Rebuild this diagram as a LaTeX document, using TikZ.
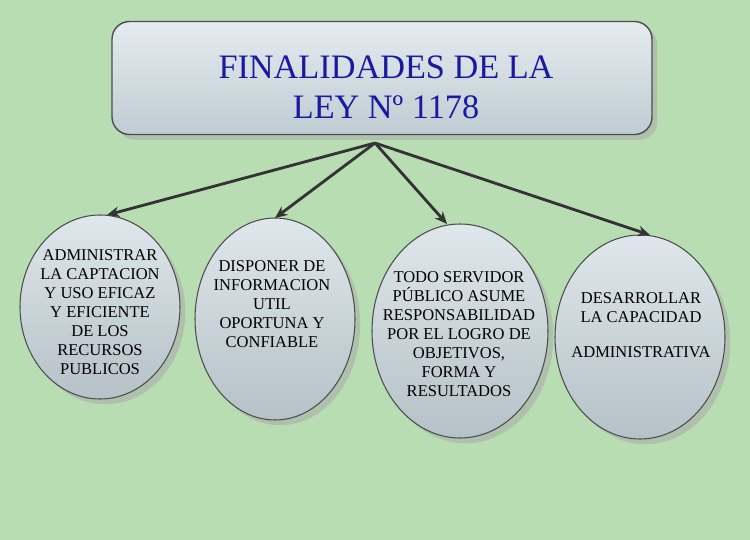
\documentclass[tikz,border=0pt]{standalone}
\usepackage{fontspec}
\setmainfont{Liberation Serif}
\usetikzlibrary{arrows.meta,shadows}
\definecolor{bg}{HTML}{B9DDB3}
\definecolor{boxf}{HTML}{C9D7DE}
\definecolor{titlec}{HTML}{1A1AA0}
\tikzset{
  ellf/.style={draw=black!70, line width=0.6pt, top color=boxf!60!white, bottom color=boxf!90!black, drop shadow={shadow xshift=3pt, shadow yshift=-3pt, fill=black!35}},
  etxt/.style={align=center, font=\fontsize{9.4}{10.8}\selectfont, inner sep=0pt},
  arr/.style={-{Stealth[length=7pt,width=6pt]}, line width=1.6pt, draw=black!80}
}
\begin{document}
\begin{tikzpicture}[x=0.02cm,y=-0.02cm]
\fill[bg] (0,0) rectangle (750,540);
\useasboundingbox (0,0) rectangle (750,540);
\node[draw=black!70, line width=0.8pt, rounded corners=10pt, minimum width=540*0.02cm, minimum height=113*0.02cm, top color=boxf!50!white, bottom color=boxf!95!black, drop shadow={shadow xshift=3pt, shadow yshift=-3pt, fill=black!35}] (t) at (382,78) {};
\node[align=center, font=\fontsize{19.5}{22.7}\selectfont, text=titlec] (tt) at (386,87) {FINALIDADES DE LA\\LEY Nº 1178};
\coordinate (s) at (375,143);
\path[ellf] (100,307) ellipse [x radius=80*0.02cm, y radius=92*0.02cm];
\path[ellf] (275,319) ellipse [x radius=80*0.02cm, y radius=101*0.02cm];
\path[ellf] (460,331) ellipse [x radius=88*0.02cm, y radius=107*0.02cm];
\path[ellf] (640,337) ellipse [x radius=85*0.02cm, y radius=102*0.02cm];
\coordinate (n1) at (107,215);
\coordinate (n2) at (275,218);
\coordinate (n3) at (447,224);
\coordinate (n4) at (650,235);
\node[etxt] (e1) at (100,312) {ADMINISTRAR\\LA CAPTACION\\Y USO EFICAZ\\Y EFICIENTE\\DE LOS\\RECURSOS\\PUBLICOS};
\node[etxt] (e2) at (272,304) {DISPONER DE\\INFORMACION\\UTIL\\OPORTUNA Y\\CONFIABLE};
\node[etxt] (e3) at (459,334) {TODO SERVIDOR\\PÚBLICO ASUME\\RESPONSABILIDAD\\POR EL LOGRO DE\\OBJETIVOS,\\FORMA Y\\RESULTADOS};
\node[etxt] (e4) at (641,325) {DESARROLLAR\\LA CAPACIDAD\\[9pt]ADMINISTRATIVA};
\draw[arr] (s) -- (n1);
\draw[arr] (s) -- (n2);
\draw[arr] (s) -- (n3);
\draw[arr] (s) -- (n4);
\end{tikzpicture}
\end{document}
